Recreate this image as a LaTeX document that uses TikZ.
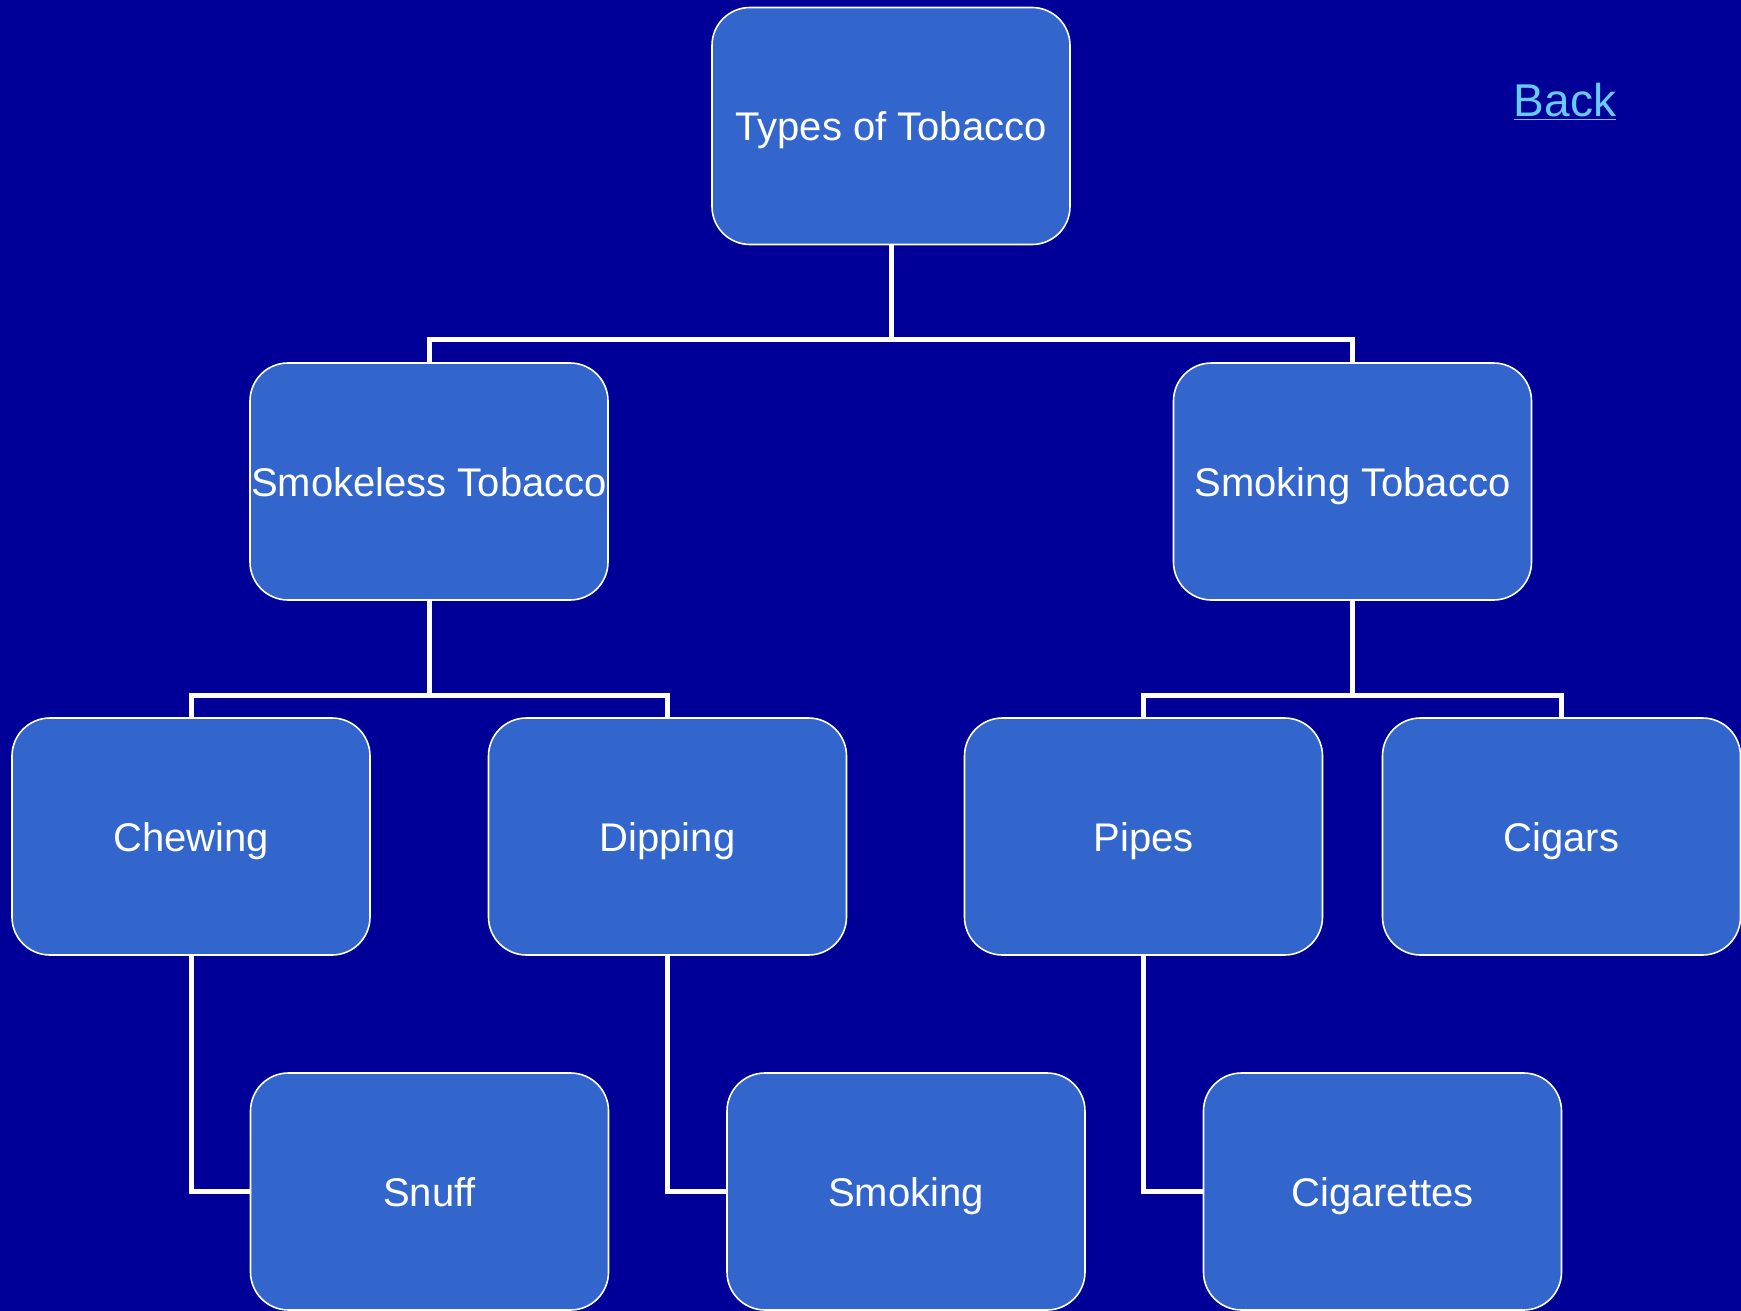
\documentclass[tikz,border=0pt]{standalone}
\usepackage{fontspec}
\setmainfont{Liberation Sans}
\usepackage{tikz}
\definecolor{bgblue}{HTML}{000099}
\definecolor{boxblue}{HTML}{3366CC}
\definecolor{linkblue}{HTML}{66CCFF}
\tikzset{%
  b/.style = {rectangle,rounded corners=38pt,draw=white,line width=1.6pt,
        fill=boxblue,text=white,minimum width=358pt,minimum height=237pt,
        inner sep=0pt,text height=30pt,text depth=0pt,
        font=\fontsize{40}{48}\selectfont},
  conn/.style = {draw=white,line width=5pt}
}
\begin{document}
\begin{tikzpicture}[x=1pt,y=-1pt]
    \fill[bgblue] (0,0) rectangle (1741,1311);
    \useasboundingbox (0,0) rectangle (1741,1311);
    \node[b] (top) at (891,126) {Types of Tobacco};
    \node[b] (smokeless) at (429,481.5) {Smokeless Tobacco};
    \node[b] (smokingtob) at (1352.5,481.5) {Smoking Tobacco};
    \node[b] (chewing) at (191,836.5) {Chewing};
    \node[b] (dipping) at (667.5,836.5) {Dipping};
    \node[b] (pipes) at (1143.5,836.5) {Pipes};
    \node[b] (cigars) at (1561.5,836.5) {Cigars};
    \node[b] (snuff) at (429.5,1191.5) {Snuff};
    \node[b] (smoking) at (906,1191.5) {Smoking};
    \node[b] (cigarettes) at (1382.5,1191.5) {Cigarettes};
    \node[text=linkblue,anchor=base,font=\fontsize{46}{55}\selectfont]
        (back) at (1565,117) {\underline{Back}};
    % connectors
    \draw[conn] (top.south) -- ++(0,94) -| (smokeless.north);
    \draw[conn] (top.south) -- ++(0,94) -| (smokingtob.north);
    \draw[conn] (smokeless.south) -- ++(0,95) -| (chewing.north);
    \draw[conn] (smokeless.south) -- ++(0,95) -| (dipping.north);
    \draw[conn] (smokingtob.south) -- ++(0,95) -| (pipes.north);
    \draw[conn] (smokingtob.south) -- ++(0,95) -| (cigars.north);
    \draw[conn] (chewing.south) |- (snuff.west);
    \draw[conn] (dipping.south) |- (smoking.west);
    \draw[conn] (pipes.south) |- (cigarettes.west);
\end{tikzpicture}
\end{document}
